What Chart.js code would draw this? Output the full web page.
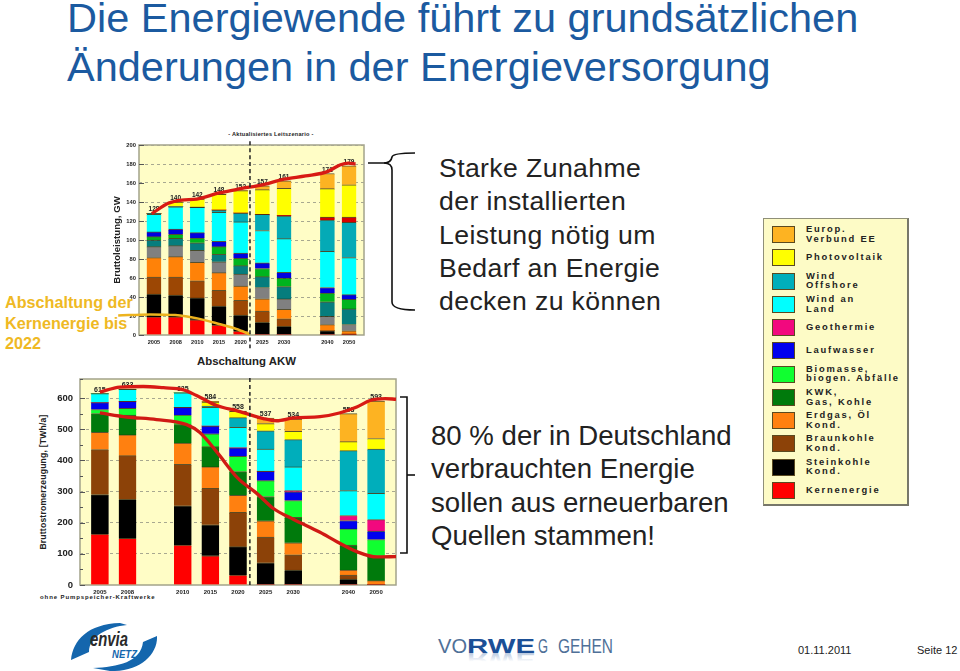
<!DOCTYPE html>
<html>
<head>
<meta charset="utf-8">
<title>Energiewende</title>
<script src="https://cdn.jsdelivr.net/npm/chart.js@4"></script>
<style>
  html, body { margin: 0; padding: 0; background: #fff; }
  body { position: relative; width: 960px; height: 671px; overflow: hidden; font-family: "Liberation Sans", Arial, sans-serif; }
  .abs { position: absolute; white-space: nowrap; }
  canvas { position: absolute; }
  #title { left: 67px; top: -7px; font-size: 41.5px; line-height: 49px; color: #1b5aa0; }
  #off { left: 5px; top: 292px; font-size: 16.2px; line-height: 20.5px; font-weight: bold; color: #efb924; }
  .big { font-size: 26.6px; line-height: 33.3px; color: #222; }
  #note1 { left: 439px; top: 152px; letter-spacing: 0.4px; }
  #note2 { left: 431px; top: 419px; font-size: 27.6px; }
  #lead { left: 0; top: 131px; width: 542px; text-align: center; font-size: 5.6px; font-weight: bold; letter-spacing: 0.25px; color: #222; }
  #akw { left: 197px; top: 355px; font-size: 11.4px; font-weight: bold; color: #222; }
  #pump { left: 40px; top: 594px; font-size: 6px; font-weight: bold; letter-spacing: 0.9px; color: #222; }
  #ylab2 { left: 43px; top: 482px; font-size: 8.6px; font-weight: bold; color: #222; transform: translate(-50%, -50%) rotate(-90deg); letter-spacing: 0.2px; }
  #legend { left: 763px; top: 218px; width: 143px; height: 285px; background: #fdfbc6; border: 1px solid #8f8f78; border-right: 2px solid #77776a; border-bottom: 2px solid #77776a; }
  .swatch { position: absolute; left: 8px; width: 21px; height: 15px; border: 1px solid #5a4a20; }
  .ltext { position: absolute; left: 42px; font-size: 9.4px; line-height: 9.8px; font-weight: bold; letter-spacing: 1.8px; color: #222; white-space: pre; transform: translateY(-50%); }
  #date { left: 798px; top: 644px; font-size: 11px; color: #222; }
  #page { left: 917px; top: 644px; font-size: 11px; color: #222; }
</style>
</head>
<body>
<div class="abs" id="title">Die Energiewende führt zu grundsätzlichen<br>Änderungen in der Energieversorgung</div>
<div class="abs" id="off">Abschaltung der<br>Kernenergie bis<br>2022</div>
<div class="abs big" id="note1">Starke Zunahme<br>der installierten<br>Leistung nötig um<br>Bedarf an Energie<br>decken zu können</div>
<div class="abs big" id="note2">80 % der in Deutschland<br>verbrauchten Energie<br>sollen aus erneuerbaren<br>Quellen stammen!</div>
<div class="abs" id="lead">- Aktualisiertes Leitszenario -</div>
<div class="abs" id="akw">Abschaltung AKW</div>
<div class="abs" id="pump">ohne Pumpspeicher-Kraftwerke</div>
<div class="abs" id="ylab2">Bruttostromerzeugung, [TWh/a]</div>
<div class="abs" id="legend"></div>
<div class="abs" id="date">01.11.2011</div>
<div class="abs" id="page">Seite 12</div>

<svg class="abs" style="left:0;top:0" width="960" height="671" fill="none" font-family="Liberation Sans">
  <defs>
    <linearGradient id="fade" x1="0" y1="0" x2="0" y2="1">
      <stop offset="0.45" stop-color="#1b4f96" stop-opacity="0"/>
      <stop offset="1" stop-color="#1b4f96" stop-opacity="0.45"/>
    </linearGradient>
  </defs>
  <!-- brackets -->
  <g stroke="#111" stroke-width="1.6">
    <path d="M368 163 H384 Q391 163 392 157 Q393 153 415 153"/>
    <path d="M384 163 Q392 163 392 170 V302 Q392 310 415 310"/>
    <path d="M400 397 H407 V553 H400"/>
    <path d="M407 475 H415"/>
  </g>
  <!-- envia logo -->
  <path d="M71 660 C73 640 88 624 120 623 L127 625 C108 627 89 636 89 652 Z" fill="#1466ad"/>
  <path d="M157 636 C158 654 140 672 110 671 L93 668 C118 667 141 662 143 642 Z" fill="#1466ad"/>
  <text x="90" y="646" font-size="20" font-weight="bold" font-style="italic" fill="#2a2a2a" textLength="38" lengthAdjust="spacingAndGlyphs">envia</text>
  <text x="112" y="657.5" font-size="11" font-weight="bold" font-style="italic" fill="#1466ad" textLength="25" lengthAdjust="spacingAndGlyphs">NETZ</text>
  <!-- vorweg gehen -->
  <g font-size="21" fill="#4f7098">
    <text x="438" y="653" textLength="29" lengthAdjust="spacingAndGlyphs">VO</text>
    <text x="467" y="653" font-weight="bold" fill="#1b4f96" textLength="68" lengthAdjust="spacingAndGlyphs">RWE</text>
    <text x="467" y="653" font-weight="bold" fill="url(#fade)" transform="translate(0 1306) scale(1 -1)" textLength="68" lengthAdjust="spacingAndGlyphs">RWE</text>
    <text x="538" y="653" textLength="10" lengthAdjust="spacingAndGlyphs">G</text>
    <text x="558" y="653" textLength="55" lengthAdjust="spacingAndGlyphs">GEHEN</text>
  </g>
</svg>

<canvas id="power" width="300" height="250" style="left:100px;top:125px"></canvas>
<canvas id="energy" width="380" height="255" style="left:30px;top:355px"></canvas>

<script>
// --- installed capacity, GW ---
var capYears = ['2005', '2008', '2010', '2015', '2020', '2025', '2030', '', '2040', '2050'];
var capTotals = ['128', '140', '142', '148', '152', '157', '161', '', '171', '179'];
var capTicks = [0, 20, 40, 60, 80, 100, 120, 140, 160, 180, 200];
var capKern = [19, 19, 16, 10.5, 4, 0, 0, null, 0, 0];
var capStein = [24, 23, 23, 20, 17, 13.3, 9, null, 4.5, 1];
var capBraun = [18, 19, 18, 16.5, 15.5, 12, 8, null, 0, 0];
var capErdgas = [20.5, 21.5, 19.5, 18.6, 15.1, 12.9, 10, null, 6.5, 3.5];
var capGrau = [11.5, 11.5, 12.5, 11.4, 12.4, 11.8, 11, null, 8.6, 6.6];
var capKwk = [7, 7.7, 8, 8, 9, 11.4, 13, null, 15.4, 16.4];
var capBio = [3.5, 4.3, 5, 8, 7.7, 8.6, 9, null, 9, 10];
var capLauf = [5, 5.5, 5.7, 5.6, 5.6, 6, 6, null, 6, 5];
var capLand = [18.5, 23.5, 26.8, 30.4, 32.7, 34, 35.4, null, 38, 39];
var capOff = [1, 0, 0, 2.6, 9.4, 17, 23.9, null, 33, 37];
var capGeo = [0, 0, 0, 0, 0, 0, 0.7, null, 3, 5.5];
var capPv = [0, 5, 8.5, 16.4, 23.6, 26, 28.4, null, 30, 34.1];
var capEu = [0, 0, 0, 0, 0, 4, 8, null, 16, 20];
var capLineX = [-0.1, 0.66, 1.28, 1.97, 3, 4, 5, 6, 7, 8, 8.58, 8.97, 9.3];
var capLineY = [127.7, 138.6, 142, 143, 149.5, 154, 158, 164, 167.4, 172, 179, 181, 180];
var akwLineX = [-1.65, -0.18, 0.98, 2, 3, 3.8, 4.43];
var akwLineY = [20.4, 21.7, 21, 17.5, 11.6, 6.3, 0.7];

// --- generation, TWh/a ---
var genYears = ['2005', '2008', '', '2010', '2015', '2020', '2025', '2030', '', '2040', '2050'];
var genTotals = ['615', '633', '', '625', '584', '558', '537', '534', '', '553', '593'];
var genTicks = [0, 100, 200, 300, 400, 500, 600];
var genKern = [163, 149.5, null, 128, 94, 32, 0, 0, null, 0, 0];
var genStein = [127, 125.5, null, 126, 99, 91, 71.5, 48, null, 19, 0];
var genBraun = [144.5, 140, null, 133.5, 117, 110, 82.5, 49, null, 13, 0];
var genErdgas = [55.5, 66.5, null, 67.5, 69, 55, 52, 38.6, null, 16, 14];
var genKwk = [60, 63.5, null, 59.5, 65, 76, 78, 81.4, null, 80, 78];
var genBio = [13, 22, null, 31, 41, 49, 51, 54, null, 52, 54];
var genLauf = [22, 22, null, 24.5, 25, 27, 30, 28, null, 27, 27];
var genGeo = [0, 0, null, 0, 0, 0, 0, 4, null, 16, 37];
var genLand = [29, 39, null, 47, 60, 66, 71, 76, null, 80, 84];
var genOff = [0, 0, null, 0, 4, 31, 59, 87.5, null, 128, 142];
var genPv = [0, 0, null, 0, 13, 20, 23, 26.5, null, 29, 34];
var genEu = [0, 0, null, 0, 2, 1, 18, 39, null, 90, 120];
var genTopX = [0, 0.72, 1.57, 2.3, 3, 3.5, 4.23, 5, 5.92, 6.4, 7, 7.97, 8.67, 9.3, 9.78, 10.33, 10.72];
var genTopY = [619, 635, 637, 633, 627, 608, 576, 558, 534, 527, 536, 540, 552, 571, 592, 598, 596];
var genLowX = [0, 0.97, 2.05, 3.14, 3.62, 4.23, 5, 5.68, 6.28, 7, 7.97, 8.58, 9.3, 10.03, 10.72];
var genLowY = [552, 539, 531, 514.6, 489, 427, 342, 294, 245.5, 211, 169, 139, 107, 90, 91];

// legend
var legendLabels = ['Europ.\nVerbund EE', 'Photovoltaik', 'Wind\nOffshore', 'Wind an\nLand', 'Geothermie', 'Laufwasser',
  'Biomasse,\nbiogen. Abfälle', 'KWK,\nGas, Kohle', 'Erdgas, Öl\nKond.', 'Braunkohle\nKond.', 'Steinkohle\nKond.', 'Kernenergie'];
var legendColors = ['#fdb322', '#ffff00', '#00aebb', '#00ffff', '#f2087e', '#0000ee', '#10ff30', '#007a0c', '#ff8010', '#8c4208', '#000000', '#ff0000'];

var legend = document.getElementById('legend');
for (var i in legendLabels) {
  var mid = 15 + i * 23.27;
  var sw = document.createElement('div');
  sw.className = 'swatch';
  sw.style.top = (mid - 8) + 'px';
  sw.style.background = legendColors[i];
  legend.appendChild(sw);
  var tx = document.createElement('div');
  tx.className = 'ltext';
  tx.style.top = mid + 'px';
  tx.textContent = legendLabels[i];
  legend.appendChild(tx);
}

function barSet(values, color) {
  return {
    type: 'bar', stack: 's', order: 2,
    data: values.map(function (v, i) { return { x: i, y: v }; }),
    backgroundColor: color,
    borderColor: 'rgba(40,30,0,0.75)',
    borderWidth: { top: 1 },
    borderSkipped: false
  };
}

function lineSet(xs, ys, color, width, dash) {
  return {
    type: 'line', order: 1, clip: false,
    data: xs.map(function (x, i) { return { x: x, y: ys[i] }; }),
    borderColor: color,
    borderWidth: width,
    borderDash: dash || [],
    cubicInterpolationMode: 'monotone',
    pointRadius: 0
  };
}

// plot background, frame, little ticks inside and the totals above each stack
var framePlugin = {
  id: 'frame',
  beforeDraw: function (chart) {
    var a = chart.chartArea, c = chart.ctx;
    c.save();
    c.fillStyle = '#fffdc6';
    c.fillRect(a.left, a.top, a.width, a.height);
    c.strokeStyle = '#a3a38a';
    c.lineWidth = 1.5;
    c.strokeRect(a.left, a.top, a.width, a.height);
    c.restore();
  },
  beforeDatasetsDraw: function (chart) {
    var o = chart.options.plugins.frame, c = chart.ctx, a = chart.chartArea;
    var xs = chart.scales.x, ys = chart.scales.y;
    c.save();
    c.strokeStyle = '#555';
    c.lineWidth = 1;
    ys.ticks.forEach(function (t) {
      var p = Math.round(ys.getPixelForValue(t.value)) + 0.5;
      var major = t.value % o.major === 0;
      c.beginPath();
      c.moveTo(a.left, p);
      c.lineTo(a.left + (major ? 5 : 3), p);
      c.stroke();
    });
    c.fillStyle = '#222';
    c.font = o.totalFont;
    c.textAlign = 'center';
    o.totals.forEach(function (txt, i) {
      if (txt === '') return;
      var sum = 0;
      chart.data.datasets.forEach(function (d) {
        if (d.type === 'bar') sum += d.data[i].y || 0;
      });
      c.fillText(txt, xs.getPixelForValue(i), ys.getPixelForValue(sum) - 2);
    });
    c.restore();
  }
};

function makeChart(id, spacing, cats, totals, sets, cfg) {
  var cv = document.getElementById(id);
  var ctx = cv.getContext('2d');
  ctx.letterSpacing = spacing + 'px';
  return new Chart(ctx, {
    type: 'bar',
    data: { datasets: sets },
    plugins: [framePlugin],
    options: {
      responsive: false,
      animation: false,
      layout: { padding: cfg.padding },
      barThickness: cfg.barWidth,
      plugins: {
        legend: { display: false },
        tooltip: { enabled: false },
        frame: { totals: totals, major: cfg.major, totalFont: cfg.totalFont }
      },
      scales: {
        x: {
          type: 'linear', stacked: true, offset: false, min: cfg.xMin, max: cfg.xMax,
          afterFit: function (s) { s.height = cfg.xHeight; },
          grid: { display: false, drawTicks: false },
          border: { display: false },
          ticks: {
            stepSize: 1, includeBounds: false, autoSkip: false, maxRotation: 0, padding: 4,
            color: '#222', font: cfg.xFont,
            callback: function (v) { return cats[v] || ''; }
          }
        },
        y: {
          min: 0, max: cfg.yMax,
          afterFit: function (s) { s.width = cfg.yWidth; },
          grid: {
            drawTicks: false,
            color: function (c) {
              if (c.tick.value === 0 || c.tick.value % cfg.major !== 0) return 'rgba(0,0,0,0)';
              return '#a8a890';
            }
          },
          border: { dash: [3, 3], display: false },
          title: cfg.yTitle,
          ticks: {
            stepSize: cfg.major / 2, padding: cfg.yPad, color: '#222', font: cfg.tickFont,
            callback: function (v) { return cfg.yTicks.indexOf(v) >= 0 ? String(v) : ''; }
          }
        }
      }
    }
  });
}

var capColors = { kern: '#ff0000', stein: '#000000', braun: '#9c4704', erd: '#ff8208', grau: '#808080', kwk: '#067d7d', bio: '#00b41e', lauf: '#0000e0', land: '#00ffff', off: '#04aab6', geo: '#d80000', pv: '#ffff00', eu: '#fdb322' };

makeChart('power', 0, capYears, capTotals, [
  barSet(capKern, capColors.kern), barSet(capStein, capColors.stein), barSet(capBraun, capColors.braun),
  barSet(capErdgas, capColors.erd), barSet(capGrau, capColors.grau), barSet(capKwk, capColors.kwk),
  barSet(capBio, capColors.bio), barSet(capLauf, capColors.lauf), barSet(capLand, capColors.land),
  barSet(capOff, capColors.off), barSet(capGeo, capColors.geo), barSet(capPv, capColors.pv), barSet(capEu, capColors.eu),
  lineSet([4.43, 4.43], [-14, 205], '#222', 1.5, [4, 3]),
  lineSet(akwLineX, akwLineY, '#edb31e', 2.5),
  lineSet(capLineX, capLineY, '#d81a14', 3.3)
], {
  padding: { left: 12, right: 36, top: 20, bottom: 8 },
  xMin: -0.69, xMax: 9.69, yMax: 200, major: 20, barWidth: 14.5, xHeight: 32, yWidth: 27, yPad: 3,
  yTicks: capTicks,
  tickFont: { family: 'Liberation Sans', size: 5.8, weight: 'bold' },
  xFont: { family: 'Liberation Sans', size: 5.6, weight: 'bold' },
  totalFont: 'bold 6.5px "Liberation Sans"',
  yTitle: { display: true, text: 'Bruttoleistung, GW', color: '#222', padding: 0, font: { family: 'Liberation Sans', size: 9.6, weight: 'bold' } }
});

makeChart('energy', 1, genYears, genTotals, [
  barSet(genKern, '#ff0000'), barSet(genStein, '#000000'), barSet(genBraun, '#8c4208'), barSet(genErdgas, '#ff8010'),
  barSet(genKwk, '#007a0c'), barSet(genBio, '#10ff30'), barSet(genLauf, '#0000ee'), barSet(genGeo, '#f2087e'),
  barSet(genLand, '#00ffff'), barSet(genOff, '#00aebb'), barSet(genPv, '#ffff00'), barSet(genEu, '#fdb322'),
  lineSet([5.43, 5.43], [0, 673], '#222', 1.5, [4, 3]),
  lineSet(genTopX, genTopY, '#d81a14', 3.3),
  lineSet(genLowX, genLowY, '#d01a14', 3.3)
], {
  padding: { left: 5, right: 14, top: 24, bottom: 10 },
  xMin: -0.72, xMax: 10.72, yMax: 661, major: 100, barWidth: 17.5, xHeight: 15, yWidth: 45, yPad: 7,
  yTicks: genTicks,
  tickFont: { family: 'Liberation Sans', size: 9.5, weight: 'bold' },
  xFont: { family: 'Liberation Sans', size: 6, weight: 'bold' },
  totalFont: 'bold 7px "Liberation Sans"',
  yTitle: { display: false }
});
</script>
</body>
</html>
